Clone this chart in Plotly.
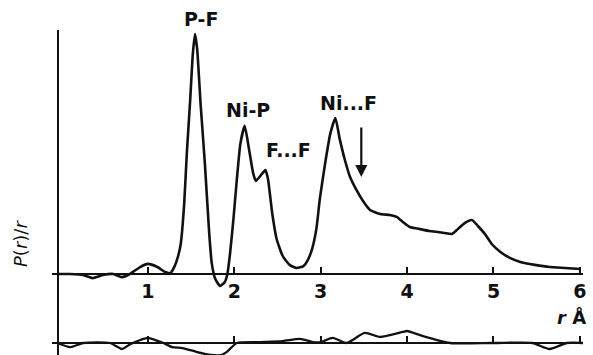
import plotly.graph_objects as go

# Radial distribution curve P(r)/r (arbitrary units) vs r in Angstrom
r_upper = [-0.04, 0.10, 0.25, 0.36, 0.48, 0.60, 0.70, 0.79, 0.91, 1.00, 1.11, 1.20, 1.26,
           1.31, 1.35, 1.38, 1.42, 1.45, 1.49, 1.52, 1.545, 1.57, 1.61, 1.66, 1.71, 1.74,
           1.78, 1.835, 1.89, 1.92, 1.95, 1.99, 2.03, 2.07, 2.12, 2.17, 2.22, 2.25, 2.30,
           2.36, 2.39, 2.44, 2.49, 2.56, 2.64, 2.72, 2.80, 2.85, 2.90, 2.95, 2.99, 3.05,
           3.11, 3.17, 3.22, 3.28, 3.34, 3.42, 3.49, 3.57, 3.69, 3.80, 3.88, 3.95, 4.03,
           4.14, 4.26, 4.43, 4.52, 4.59, 4.67, 4.75, 4.82, 4.90, 4.98, 5.08, 5.19, 5.31,
           5.48, 5.65, 5.83, 6.00]
p_upper = [0.0, 0.0, -0.04, -0.17, -0.04, 0.0, -0.13, 0.0, 0.29, 0.42, 0.29, 0.08, 0.04,
           0.33, 0.75, 1.25, 2.92, 5.00, 7.29, 9.17, 10.0, 9.38, 7.08, 4.58, 1.67, 0.42,
           -0.21, -0.50, -0.33, 0.0, 0.83, 2.29, 3.96, 5.42, 6.17, 5.21, 4.17, 3.88, 4.08,
           4.33, 3.96, 2.50, 1.46, 0.75, 0.38, 0.25, 0.33, 0.58, 1.04, 1.88, 3.13, 4.58,
           5.83, 6.50, 5.63, 4.75, 4.04, 3.46, 3.04, 2.67, 2.50, 2.46, 2.38, 2.17, 1.96,
           1.88, 1.79, 1.71, 1.67, 1.88, 2.13, 2.25, 2.00, 1.67, 1.25, 0.92, 0.67, 0.50,
           0.38, 0.29, 0.25, 0.21]

# Difference curve (experimental - calculated)
r_diff = [-0.05, 0.10, 0.25, 0.56, 0.70, 0.80, 0.88, 1.00, 1.12, 1.18, 1.28, 1.40, 1.57,
          1.73, 1.85, 1.91, 2.03, 2.30, 2.56, 2.76, 2.91, 3.00, 3.14, 3.30, 3.51, 3.69,
          3.95, 4.00, 4.15, 4.30, 4.50, 5.00, 5.45, 5.65, 5.85, 6.04]
p_diff = [0.0, -0.17, 0.0, 0.0, -0.25, -0.04, 0.08, 0.21, 0.08, 0.0, -0.17, -0.21, -0.38,
          -0.50, -0.50, -0.38, 0.0, 0.04, 0.08, 0.17, 0.04, 0.04, 0.21, 0.0, 0.42, 0.25,
          0.46, 0.50, 0.33, 0.17, 0.0, 0.0, 0.0, -0.25, 0.0, 0.0]

tick_vals = [1, 2, 3, 4, 5, 6]
tick_text = ["1", "2", "3", "4", "5", "6"]

peak_labels = ["P-F", "Ni-P", "F...F", "Ni...F"]
peak_label_pos = [(0.339, 0.9465), (0.4182, 0.690), (0.4857, 0.5775), (0.5885, 0.7099)]
arrow_r = 3.47
arrow_tip = 4.04

FONT = "DejaVu Sans"
INK = "#111111"

fig = go.Figure()
fig.add_trace(go.Scatter(x=r_upper, y=p_upper, mode="lines", xaxis="x", yaxis="y",
                         line=dict(color=INK, width=2.6, shape="spline", smoothing=0.5),
                         showlegend=False, hoverinfo="skip"))
fig.add_trace(go.Scatter(x=r_diff, y=p_diff, mode="lines", xaxis="x2", yaxis="y2",
                         line=dict(color=INK, width=2.3, shape="spline", smoothing=0.6),
                         showlegend=False, hoverinfo="skip"))

xr = [-0.11, 6.036]
xdom = [52 / 593, 583 / 593]
ydom = [0, 1 - 30 / 355]

common_x = dict(range=xr, domain=xdom, anchor="free", showline=True, linecolor=INK,
                linewidth=2, ticks="inside", ticklen=6, tickwidth=2, tickcolor=INK,
                tickvals=tick_vals, showgrid=False, zeroline=False, automargin=False,
                fixedrange=True)

annotations = []
for txt, (px, py) in zip(peak_labels, peak_label_pos):
    annotations.append(dict(text=txt, x=px, y=py, xref="paper", yref="paper",
                            showarrow=False, xanchor="center", yanchor="middle",
                            font=dict(family=FONT, size=19, color=INK, weight="bold")))
annotations.append(dict(text="<i>P</i>(<i>r</i>)/<i>r</i>", x=0.0354, y=0.3155,
                        xref="paper", yref="paper", showarrow=False, textangle=-90,
                        xanchor="center", yanchor="middle",
                        font=dict(family=FONT, size=18, color=INK)))
annotations.append(dict(text="<i>r</i> Å", x=0.992, y=0.107, xref="paper", yref="paper",
                        showarrow=False, xanchor="right", yanchor="middle",
                        font=dict(family=FONT, size=18, color=INK, weight="bold")))
annotations.append(dict(text="", x=arrow_r, y=arrow_tip, xref="x", yref="y",
                        showarrow=True, ax=0, ay=-51, axref="pixel", ayref="pixel",
                        arrowhead=2, arrowsize=1.1, arrowwidth=2.2, arrowcolor=INK))

fig.update_layout(
    width=593, height=355,
    margin=dict(l=0, r=0, t=0, b=0, pad=0),
    paper_bgcolor="white", plot_bgcolor="rgba(0,0,0,0)",
    xaxis=dict(**common_x, position=1 - 274 / 355, ticktext=tick_text, showticklabels=True,
               tickfont=dict(family=FONT, size=19, color=INK, weight="bold")),
    xaxis2=dict(**common_x, position=1 - 343 / 355, showticklabels=False),
    yaxis=dict(range=[-3.375, 10.1667], domain=ydom, anchor="free", position=58 / 593,
               showline=True, linecolor=INK, linewidth=2, ticks="", showticklabels=False,
               showgrid=False, zeroline=False, automargin=False, fixedrange=True),
    yaxis2=dict(range=[-0.5, 13.0417], domain=ydom, anchor="x2", visible=False,
                showgrid=False, zeroline=False, fixedrange=True),
    annotations=annotations,
    showlegend=False,
)

fig.write_html("out.html", config={"displayModeBar": False},
               post_script="document.body.style.margin='0';document.body.style.overflow='hidden';")
